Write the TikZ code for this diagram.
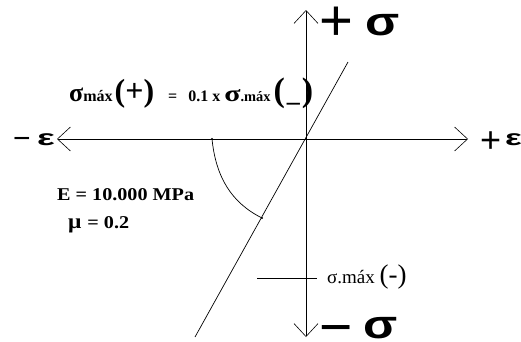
\documentclass[tikz,border=0pt]{standalone}
\usepackage{graphicx}
\usepackage{fontspec}
\setmainfont{Liberation Serif}
\newfontfamily\axf{Liberation Sans}
\newfontfamily\txf[FakeStretch=1.12]{Liberation Serif}
\usetikzlibrary{arrows.meta}
\newcommand{\fs}[1]{\fontsize{#1}{#1}\selectfont}
\newcommand{\hsc}[2]{\scalebox{#1}[1]{#2}}
\begin{document}
\begin{tikzpicture}[x=1pt,y=-1pt,
  axis/.style={line width=0.8pt,-{Straight Barb[length=13pt,width=24pt,line width=0.6pt]}},
  thin line/.style={line width=0.7pt},
  lbl/.style={inner sep=0pt,anchor=base west},
  axl/.style={inner sep=0pt,anchor=base west,font=\axf},
  bold/.style={inner sep=0pt,anchor=base west,font=\txf\bfseries\fs{18}}]
\useasboundingbox (0,0) rectangle (521,341);
\coordinate (O) at (306,139);
\coordinate (top) at (306,10);
\coordinate (bot) at (306,337);
\coordinate (left) at (57,139);
\coordinate (right) at (468,139);
\coordinate (d1) at (348,62);
\coordinate (d2) at (195,337);
\coordinate (a1) at (212,139);
\coordinate (a2) at (262,218);
\coordinate (t1) at (257,278);
\coordinate (t2) at (317,278);
\draw[axis] (O) -- (top);
\draw[axis] (O) -- (bot);
\draw[axis] (O) -- (left);
\draw[axis] (O) -- (right);
\draw[thin line] (d1) -- (d2);
\draw[thin line] (a1) .. controls (216,178) and (232,203) .. (a2);
\fill (a1) circle (1.1pt) (a2) circle (1.1pt);
\draw[thin line] (t1) -- (t2);
\node[axl] (ps) at (319.7,35) {\fs{58}\raisebox{-5.3pt}[\height][0pt]{+}\hspace{12pt}\hsc{1.25}{\bfseries\fs{40}σ}};
\node[axl] (ms) at (319,338) {\fs{57}\raisebox{-8.2pt}[\height][0pt]{−}\hspace{11pt}\hsc{1.25}{\bfseries\fs{40}σ}};
\node[axl] (me) at (13,145) {\fs{30}\raisebox{-3.5pt}[\height][0pt]{−}\hspace{6.5pt}\hsc{1.7}{\bfseries\fs{22}ε}};
\node[axl] (pe) at (480,145) {\fs{36}\raisebox{-7.6pt}[\height][0pt]{+}\hspace{4pt}\hsc{1.6}{\bfseries\fs{22}ε}};
\node[lbl] (smax) at (327,283) {\fs{19}σ.máx \fs{27}(-)};
\node[lbl] (rel) at (69,101) {\bfseries\fs{26}σ\fs{16}máx\hspace{2pt}\fs{32}(+)\hspace{14pt}\fs{16}=\hspace{11pt}0.1 x\hspace{4pt}\hsc{1.3}{\fs{23}σ}\fs{14.4}.máx\hspace{3pt}\fs{34}(\makebox[17pt]{\fs{26}\_})};
\node[bold] (E) at (57,200) {E = 10.000 MPa};
\node[bold] (mu) at (68,228) {\fs{21}μ \fs{18}= 0.2};
\end{tikzpicture}
\end{document}
